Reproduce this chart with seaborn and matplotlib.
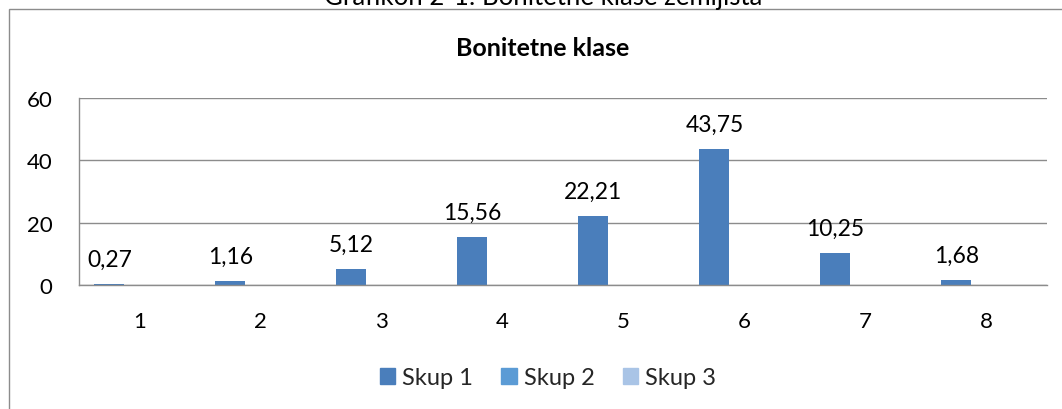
import matplotlib
matplotlib.use("Agg")
import matplotlib.pyplot as plt
import seaborn as sns
import pandas as pd
from matplotlib.patches import Rectangle

categories = ["1", "2", "3", "4", "5", "6", "7", "8"]
skup1 = [0.27, 1.16, 5.12, 15.56, 22.21, 43.75, 10.25, 1.68]
skup2 = [0, 0, 0, 0, 0, 0, 0, 0]
skup3 = [0, 0, 0, 0, 0, 0, 0, 0]
series_names = ["Skup 1", "Skup 2", "Skup 3"]
colors = ["#4A7EBB", "#5B9BD5", "#A9C4E6"]
y_ticks = [0, 20, 40, 60]
title = "Bonitetne klase"
caption = "Grafikon 2-1: Bonitetne klase zemljišta"

sns.set_theme(style="white")
plt.rcParams["font.family"] = ["Lato", "DejaVu Sans"]

rows = []
for name, vals in zip(series_names, [skup1, skup2, skup3]):
    for c, v in zip(categories, vals):
        rows.append({"kat": c, "serija": name, "vrijednost": v})
df = pd.DataFrame(rows)

fig = plt.figure(figsize=(10.62, 4.10), dpi=100)
ax = fig.add_axes([79 / 1062, 1 - 286 / 410, (1047 - 79) / 1062, (286 - 99) / 410])

sns.barplot(data=df, x="kat", y="vrijednost", hue="serija", order=categories,
            hue_order=series_names, palette=colors, width=0.744, linewidth=0,
            saturation=1, ax=ax, legend=False)

ax.set_ylim(0, 60)
ax.set_yticks(y_ticks)
ax.set_xlim(-0.5, len(categories) - 0.5)
ax.yaxis.grid(True, color="#8c8c8c", linewidth=1)
ax.xaxis.grid(False)
ax.set_axisbelow(True)
ax.set_xlabel("")
ax.set_ylabel("")
for s in ["top", "right"]:
    ax.spines[s].set_visible(False)
for s in ["left", "bottom"]:
    ax.spines[s].set_visible(True)
    ax.spines[s].set_color("#8c8c8c")
    ax.spines[s].set_linewidth(1)
ax.tick_params(axis="both", length=0, labelsize=16, colors="black")
ax.tick_params(axis="y", pad=19)
ax.tick_params(axis="x", pad=19)

# data labels for Skup 1
container = ax.containers[0]
for bar, v in zip(container, skup1):
    ax.annotate(f"{v:.2f}".replace(".", ","),
                (bar.get_x() + bar.get_width() / 2, bar.get_height()),
                xytext=(0, 13), textcoords="offset points",
                ha="center", va="baseline", fontsize=16.5, color="black")

# legend
handles = [Rectangle((0, 0), 1, 1, color=c) for c in colors]
fig.legend(handles, series_names, loc="center", bbox_to_anchor=(548 / 1062, 1 - 379 / 410),
           ncol=3, frameon=False, fontsize=17, handlelength=0.65, handleheight=0.65,
           handletextpad=0.3, columnspacing=1.2)

fig.text(543 / 1062, 1 - 48 / 410, title, ha="center", va="center",
         fontsize=18, fontweight="bold", color="black")
fig.text(543 / 1062, 1 - 5 / 410, caption, ha="center", va="baseline",
         fontsize=18.5, color="black")

fig.add_artist(Rectangle((9 / 1062, -0.2), 1.2, 1.2 - 10 / 410, transform=fig.transFigure,
                         fill=False, edgecolor="#8c8c8c", linewidth=1))

fig.savefig("out.png", dpi=100)
